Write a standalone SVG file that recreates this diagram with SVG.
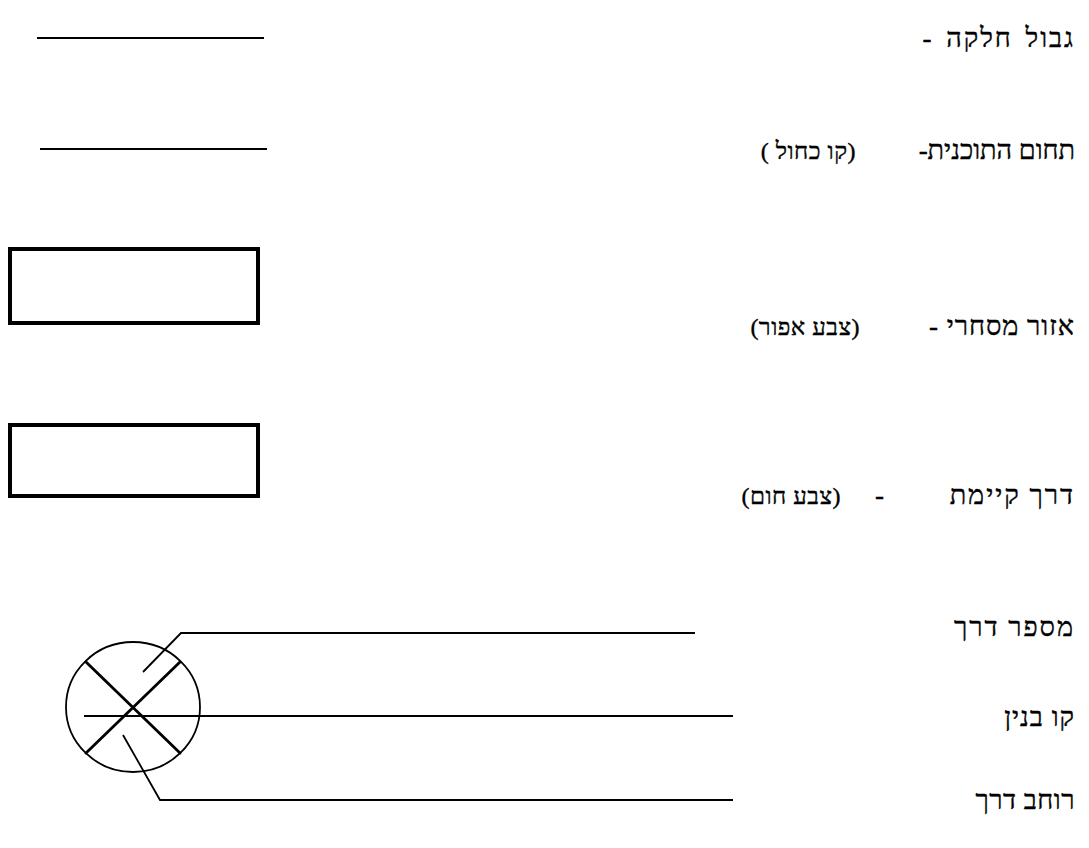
<svg xmlns="http://www.w3.org/2000/svg" width="1089" height="848" viewBox="0 0 1089 848">
<style>
.t{font-family:"Liberation Serif","DejaVu Sans",serif;font-size:27px;fill:#000;direction:rtl;text-anchor:start;letter-spacing:1px;stroke:#000;stroke-width:0.4}
.p{font-size:24px;letter-spacing:0.5px}
.ln{stroke:#000;stroke-width:1.8;fill:none}
.bx{stroke:#000;stroke-width:4;fill:#fff}
.x{stroke:#000;stroke-width:2.8;fill:none;stroke-linecap:round}
</style>
<rect width="1089" height="848" fill="#fff"/>
<g id="row-parcel">
<line class="ln" x1="37" y1="38" x2="264" y2="38"/>
<text class="t" x="1075" y="47" style="letter-spacing:2px;word-spacing:4px">גבול חלקה -</text>
</g>
<g id="row-plan">
<line class="ln" x1="40" y1="149" x2="267" y2="149"/>
<text class="t" x="1075" y="159" style="letter-spacing:0px">תחום התוכנית-</text>
<text class="t p" x="856" y="159">(קו כחול )</text>
</g>
<g id="row-commercial">
<rect class="bx" x="10" y="249" width="248" height="74"/>
<text class="t" x="1075" y="335">אזור מסחרי  -</text>
<text class="t p" x="860" y="335">(צבע אפור)</text>
</g>
<g id="row-road">
<rect class="bx" x="10" y="425" width="248" height="71"/>
<text class="t" x="1075" y="504" style="letter-spacing:2px">דרך קיימת</text>
<text class="t" x="885" y="504">-</text>
<text class="t p" x="841" y="504">(צבע חום)</text>
</g>
<g id="symbol">
<ellipse class="ln" cx="133" cy="707" rx="67" ry="65"/>
<line class="x" x1="86" y1="662" x2="180" y2="753"/>
<line class="x" x1="180" y1="662" x2="86" y2="753"/>
</g>
<g id="connectors">
<polyline class="ln" points="143,672 181,633 695,633"/>
<line class="ln" x1="84" y1="716" x2="733" y2="716"/>
<polyline class="ln" points="123,735 160,800 733,800"/>
</g>
<g id="labels">
<text class="t" x="1075" y="636" style="letter-spacing:2px">מספר דרך</text>
<text class="t" x="1075" y="726">קו בנין</text>
<text class="t" x="1075" y="809" style="letter-spacing:0.5px">רוחב דרך</text>
</g>
</svg>
